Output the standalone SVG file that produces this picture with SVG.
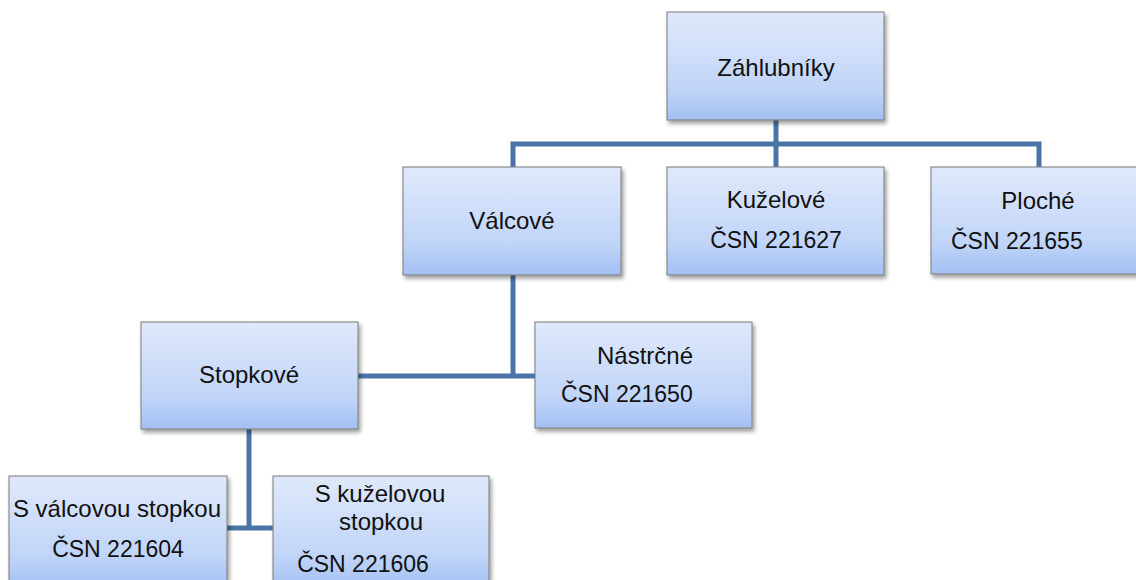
<svg xmlns="http://www.w3.org/2000/svg" width="1136" height="580" viewBox="0 0 1136 580">
<style>
.box{fill:url(#g);stroke:#7a7a7a;stroke-width:1;filter:url(#sh)}
.t{font-family:"Liberation Sans",Arial,sans-serif;font-size:24px;fill:#111}
.n{font-size:23px}
.c{text-anchor:middle}
.ln{fill:none;stroke:#4a74a8;stroke-width:5}
</style>
<defs>
<linearGradient id="g" x1="0" y1="0" x2="0" y2="1">
<stop offset="0" stop-color="#e0e9fb"/>
<stop offset="0.7" stop-color="#c1d5f8"/>
<stop offset="1" stop-color="#a3c0f2"/>
</linearGradient>
<filter id="sh" x="-10%" y="-10%" width="130%" height="140%">
<feDropShadow dx="2" dy="3" stdDeviation="2" flood-color="#000" flood-opacity="0.4"/>
</filter>
</defs>
<g id="connectors">
<path class="ln" d="M776,120 V167"/>
<path class="ln" d="M513,167 V144 H1039 V167"/>
<path class="ln" d="M513,275 V376"/>
<path class="ln" d="M358,376 H535"/>
<path class="ln" d="M249,429 V528"/>
<path class="ln" d="M227,528 H273"/>
</g>
<g id="zahlubniky">
<rect class="box" x="667" y="12" width="217" height="108"/>
<text class="t c" x="776" y="76">Záhlubníky</text>
</g>
<g id="valcove">
<rect class="box" x="403" y="167" width="218" height="108"/>
<text class="t c" x="512" y="229">Válcové</text>
</g>
<g id="kuzelove">
<rect class="box" x="667" y="167" width="217" height="108"/>
<text class="t c" x="776" y="208">Kuželové</text>
<text class="t n c" x="776" y="248">ČSN 221627</text>
</g>
<g id="ploche">
<rect class="box" x="931" y="167" width="217" height="107"/>
<text class="t c" x="1038" y="209">Ploché</text>
<text class="t n" x="951" y="249">ČSN 221655</text>
</g>
<g id="stopkove">
<rect class="box" x="141" y="322" width="217" height="107"/>
<text class="t c" x="249" y="383">Stopkové</text>
</g>
<g id="nastrcne">
<rect class="box" x="535" y="322" width="217" height="106"/>
<text class="t c" x="645" y="364">Nástrčné</text>
<text class="t n" x="561" y="402">ČSN 221650</text>
</g>
<g id="s-valcovou">
<rect class="box" x="9" y="476" width="218" height="112"/>
<text class="t c" x="117" y="517">S válcovou stopkou</text>
<text class="t n c" x="118" y="557">ČSN 221604</text>
</g>
<g id="s-kuzelovou">
<rect class="box" x="273" y="476" width="216" height="112"/>
<text class="t c" x="380" y="502">S kuželovou</text>
<text class="t c" x="381" y="530">stopkou</text>
<text class="t n c" x="363" y="572">ČSN 221606</text>
</g>
</svg>
